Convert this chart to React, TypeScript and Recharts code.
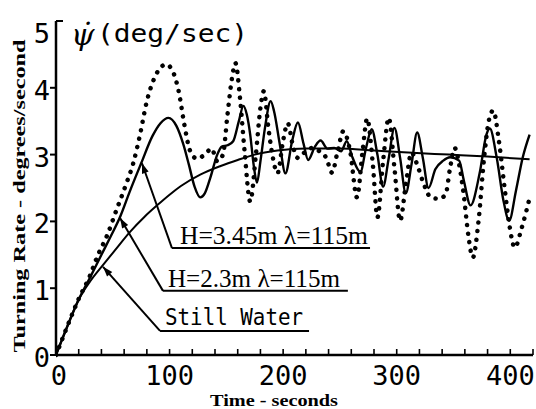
import React from "react";
import { LineChart, Line, XAxis, YAxis, ReferenceLine } from "recharts";

// ---- data (time in seconds, turning rate in deg/sec) ----
const stillTime = [0, 10, 20, 30, 42, 52, 65, 78, 89, 100, 110, 127, 145, 160, 175, 195, 220, 250, 280, 310, 346, 380, 417];
const stillRate = [0, 0.43, 0.83, 1.1, 1.36, 1.57, 1.84, 2.07, 2.24, 2.4, 2.53, 2.7, 2.83, 2.92, 3.0, 3.06, 3.09, 3.09, 3.06, 3.03, 3.0, 2.97, 2.93];

const h23Time = [0, 10, 20, 30, 40, 48, 56, 65, 75, 85, 92, 99, 106, 112, 117, 122, 127, 131, 136, 142, 146, 151, 156, 161, 165, 168, 171, 174, 177, 180, 184, 189, 192, 197, 202, 208, 213, 218, 222, 228, 233, 239, 245, 251, 256, 261, 268, 273, 278, 283, 288, 293, 298, 303, 308, 313, 318, 323, 328, 334, 341, 347, 355, 359, 365, 373, 379, 382, 388, 394, 399, 405, 411, 417];
const h23Rate = [0, 0.43, 0.83, 1.16, 1.5, 1.77, 2.05, 2.45, 2.87, 3.28, 3.47, 3.55, 3.43, 3.16, 2.85, 2.52, 2.36, 2.42, 2.66, 3.0, 3.12, 3.14, 3.2, 3.5, 3.73, 3.6, 3.3, 2.85, 2.58, 2.9, 3.4, 3.8, 3.65, 3.16, 2.72, 3.21, 3.48, 3.16, 2.92, 3.12, 3.21, 3.09, 3.1, 3.05, 3.2, 2.96, 2.74, 3.1, 3.38, 3.0, 2.52, 2.95, 3.4, 2.95, 2.42, 2.85, 3.33, 2.95, 2.5, 2.78, 2.91, 2.96, 2.91, 2.62, 2.24, 2.72, 3.3, 3.39, 2.96, 2.31, 2.01, 2.46, 2.96, 3.3];

const h345Time = [0, 10, 20, 30, 36, 45, 53, 62, 68, 74, 80, 86, 91, 97, 103, 108, 113, 118, 124, 131, 137, 142, 147, 151, 155, 158, 162, 166, 171, 176, 180, 183, 187, 191, 195, 200, 204, 209, 213, 220, 226, 232, 238, 243, 248, 253, 259, 265, 270, 274, 279, 283, 288, 293, 298, 303, 308, 313, 318, 323, 330, 337, 343, 347, 351, 355, 359, 363, 367, 372, 377, 381, 385, 390, 395, 399, 404, 410, 417];
const h345Rate = [0, 0.43, 0.84, 1.19, 1.46, 1.79, 2.16, 2.57, 2.87, 3.3, 3.8, 4.12, 4.28, 4.35, 4.24, 3.95, 3.45, 3.06, 2.94, 3.0, 3.09, 2.9, 3.0, 3.6, 4.15, 4.37, 3.85, 3.06, 2.3, 3.0, 3.7, 3.95, 3.4, 2.95, 2.72, 3.21, 3.47, 3.1, 2.95, 3.05, 3.1, 3.05, 2.95, 2.73, 3.05, 3.35, 3.05, 2.36, 3.06, 3.54, 2.85, 2.06, 2.9, 3.55, 2.8, 2.01, 2.55, 3.03, 2.85, 2.6, 2.36, 2.34, 2.4, 2.8, 3.1, 2.85, 2.4, 1.8, 1.46, 2.0, 2.96, 3.5, 3.66, 3.2, 2.5, 1.97, 1.61, 1.9, 2.35];

const xTicks = [0, 20, 40, 60, 80, 100, 120, 140, 160, 180, 200, 220, 240, 260, 280, 300, 320, 340, 360, 380, 400, 420];
const xLabelled = [0, 100, 200, 300, 400];
const yTicks = [0, 1, 2, 3, 4, 5];

// annotation labels and their leader anchors (data units)
const labelTexts = ["H=3.45m λ=115m", "H=2.3m λ=115m", "Still Water"];
const leaderTips = [[75.7, 2.87], [56.4, 2.05], [41.4, 1.32]];
const leaderCorners = [[102.1, 1.6], [94.2, 0.96], [91.6, 0.36]];
const underlineEnds = [276.5, 257, 222.8];

const zip = (ts: number[], vs: number[]) => ts.map((t, i) => ({ t, v: vs[i] }));
const stillData = zip(stillTime, stillRate);
const h23Data = zip(h23Time, h23Rate);
const h345Data = zip(h345Time, h345Rate);

const XTick = (p: any) => {
  const { x, y, payload } = p;
  const v = payload.value;
  return (
    <g>
      <line x1={x} y1={y} x2={x} y2={y - 6} stroke="#000" strokeWidth={1.6} />
      {xLabelled.includes(v) && (
        <text x={x + (v === 0 ? 3 : 0)} y={y + 30} textAnchor="middle" fontFamily="DejaVu Sans Mono" fontSize={27} fill="#000">
          {v}
        </text>
      )}
    </g>
  );
};

const YTick = (p: any) => {
  const { x, y, payload } = p;
  const v = payload.value;
  return (
    <g>
      {v === 5 ? (
        <line x1={x} y1={y} x2={x + 7} y2={y} stroke="#000" strokeWidth={2} />
      ) : (
        <line x1={x - 6} y1={y} x2={x} y2={y} stroke="#000" strokeWidth={2} />
      )}
      <text x={x - 6} y={y + (v === 5 ? 22 : 12)} textAnchor="end" fontFamily="DejaVu Sans Mono" fontSize={27} fill="#000">
        {v}
      </text>
    </g>
  );
};

const leaderShape = (p: any) => {
  const { x1, y1, x2, y2 } = p;
  const dx = x2 - x1;
  const dy = y2 - y1;
  const len = Math.sqrt(dx * dx + dy * dy) || 1;
  const ux = dx / len;
  const uy = dy / len;
  const L = 10;
  const W = 3.5;
  const bx = x1 + ux * L;
  const by = y1 + uy * L;
  const pts = `${x1},${y1} ${bx - uy * W},${by + ux * W} ${bx + uy * W},${by - ux * W}`;
  return (
    <g>
      <line x1={x1} y1={y1} x2={x2} y2={y2} stroke="#000" strokeWidth={2} />
      <polygon points={pts} fill="#000" />
    </g>
  );
};

const labelStyles = [
  { font: "Liberation Serif", size: 25, len: 188, dx: 8, dy: 4 },
  { font: "Liberation Serif", size: 25, len: 172, dx: 5, dy: 4 },
  { font: "DejaVu Sans Mono", size: 23, len: 138, dx: 5, dy: 6 },
];

const underlineShape = (i: number) => (p: any) => {
  const { x1, y1, x2, y2 } = p;
  const s = labelStyles[i];
  return (
    <g>
      <line x1={x1} y1={y1} x2={x2} y2={y2} stroke="#000" strokeWidth={2} />
      <text x={x1 + s.dx} y={y1 - s.dy} fontFamily={s.font} fontSize={s.size} textLength={s.len} lengthAdjust="spacingAndGlyphs" fill="#000">
        {labelTexts[i]}
      </text>
    </g>
  );
};

export default function App() {
  return (
    <div style={{ position: "absolute", left: 0, top: 0, width: 536, height: 409, background: "#fff" }}>
      <LineChart width={536} height={409} margin={{ top: 21, right: 3, bottom: 0, left: 0 }}>
        <XAxis
          dataKey="t"
          type="number"
          domain={[0, 420]}
          ticks={xTicks}
          allowDataOverflow
          height={54}
          tickSize={0}
          tickMargin={0}
          tickLine={false}
          tick={XTick}
          axisLine={{ stroke: "#000", strokeWidth: 2.5 }}
          interval={0}
        />
        <YAxis
          type="number"
          domain={[0, 5]}
          ticks={yTicks}
          width={56}
          tickSize={0}
          tickMargin={0}
          tickLine={false}
          tick={YTick}
          axisLine={{ stroke: "#000", strokeWidth: 2.5 }}
          interval={0}
        />
        <Line data={stillData} dataKey="v" type="monotone" stroke="#000" strokeWidth={2} dot={false} activeDot={false} isAnimationActive={false} />
        <Line data={h23Data} dataKey="v" type="monotone" stroke="#000" strokeWidth={2.4} dot={false} activeDot={false} isAnimationActive={false} />
        <Line
          data={h345Data}
          dataKey="v"
          type="monotone"
          stroke="#000"
          strokeWidth={4.5}
          strokeDasharray="0.1 8.5"
          strokeLinecap="round"
          dot={false}
          activeDot={false}
          isAnimationActive={false}
        />
        {labelTexts.map((_, i) => (
          <ReferenceLine
            key={"leader" + i}
            segment={[
              { x: leaderTips[i][0], y: leaderTips[i][1] },
              { x: leaderCorners[i][0], y: leaderCorners[i][1] },
            ]}
            shape={leaderShape}
            ifOverflow="visible"
          />
        ))}
        {labelTexts.map((_, i) => (
          <ReferenceLine
            key={"under" + i}
            segment={[
              { x: leaderCorners[i][0], y: leaderCorners[i][1] },
              { x: underlineEnds[i], y: leaderCorners[i][1] },
            ]}
            shape={underlineShape(i)}
            ifOverflow="visible"
          />
        ))}
      </LineChart>
      <svg width={536} height={409} style={{ position: "absolute", left: 0, top: 0, pointerEvents: "none" }}>
        <text x={71} y={45} fontFamily="DejaVu Serif" fontStyle="italic" fontSize={30} fill="#000">ψ̇</text>
        <text x={97} y={42} fontFamily="DejaVu Sans Mono" fontSize={24} textLength={151} lengthAdjust="spacingAndGlyphs" fill="#000">(deg/sec)</text>
        <text
          x={19}
          y={196}
          transform="rotate(-90, 19, 196)"
          textAnchor="middle"
          dominantBaseline="central"
          fontFamily="Liberation Serif"
          fontWeight="bold"
          fontSize={17}
          textLength={313}
          lengthAdjust="spacingAndGlyphs"
          fill="#000"
        >
          Turning Rate - degrees/second
        </text>
        <text x={274} y={406} textAnchor="middle" fontFamily="Liberation Serif" fontWeight="bold" fontSize={17} textLength={128} lengthAdjust="spacingAndGlyphs" fill="#000">
          Time - seconds
        </text>
      </svg>
    </div>
  );
}
